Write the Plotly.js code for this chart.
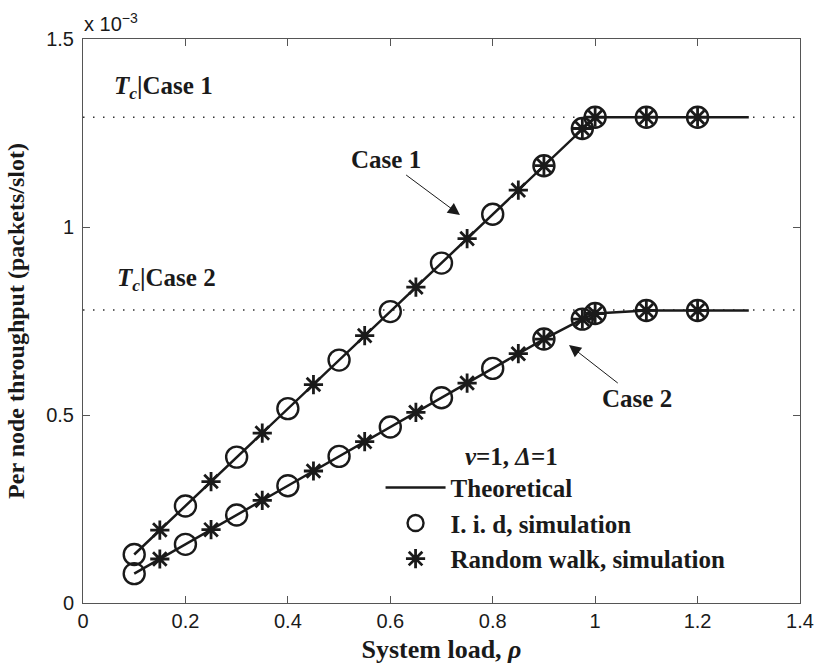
<!DOCTYPE html>
<html>
<head>
<meta charset="utf-8">
<script src="https://cdn.plot.ly/plotly-3.0.1.min.js"></script>
<style>html,body{margin:0;padding:0;background:#fff;}#chart{width:819px;height:671px;}</style>
</head>
<body>
<div id="chart"></div>
<script>
// System load rho
const theoX1 = [0.1, 1.0, 1.3];
const theoY1 = [0.129, 1.292, 1.292];
const theoX2 = [0.1, 0.9, 0.975, 1.0, 1.1, 1.3];
const theoY2 = [0.078, 0.702, 0.755, 0.770, 0.778, 0.778];

// I.i.d simulation (circles)
const iidX = [0.1, 0.2, 0.3, 0.4, 0.5, 0.6, 0.7, 0.8, 0.9, 0.975, 1.0, 1.1, 1.2];
const iidY1 = [0.129, 0.258, 0.388, 0.517, 0.646, 0.775, 0.904, 1.034, 1.163, 1.262, 1.292, 1.292, 1.292];
const iidY2 = [0.078, 0.156, 0.234, 0.312, 0.390, 0.468, 0.546, 0.624, 0.702, 0.755, 0.770, 0.778, 0.778];

// Random walk simulation (stars)
const rwX = [0.15, 0.25, 0.35, 0.45, 0.55, 0.65, 0.75, 0.85, 0.9, 0.975, 1.0, 1.1, 1.2];
const rwY1 = [0.194, 0.323, 0.452, 0.581, 0.711, 0.840, 0.969, 1.098, 1.163, 1.262, 1.292, 1.292, 1.292];
const rwY2 = [0.117, 0.195, 0.273, 0.351, 0.429, 0.507, 0.585, 0.663, 0.702, 0.755, 0.770, 0.778, 0.778];

// Capacity levels Tc
const tcX = [0, 1.4];
const tcCase1 = [1.292, 1.292];
const tcCase2 = [0.779, 0.779];

const xTicks = [0, 0.2, 0.4, 0.6, 0.8, 1, 1.2, 1.4];
const xTickText = ['0', '0.2', '0.4', '0.6', '0.8', '1', '1.2', '1.4'];
const yTicks = [0, 0.5, 1, 1.5];
const yTickText = ['0', '0.5', '1', '1.5'];

const serif = 'Liberation Serif, Times New Roman, serif';
const sans = 'Liberation Sans, Arial, sans-serif';
const ink = '#1a1a1a';

const dotted = {color: '#333', width: 1.5, dash: '1.5px,8.5px'};
const circleMarker = {symbol: 'circle-open', size: 21, color: ink, line: {width: 2.4, color: ink}};
const starMarker = {symbol: 'asterisk-open', size: 16, color: ink, line: {width: 2.8, color: ink}};

const traces = [
  {x: tcX, y: tcCase1, mode: 'lines', line: dotted, showlegend: false, hoverinfo: 'skip'},
  {x: tcX, y: tcCase2, mode: 'lines', line: dotted, showlegend: false, hoverinfo: 'skip'},
  {x: theoX1, y: theoY1, mode: 'lines', line: {color: ink, width: 2.5}, name: '<b>Theoretical</b>'},
  {x: theoX2, y: theoY2, mode: 'lines', line: {color: ink, width: 2.5}, showlegend: false},
  {x: iidX, y: iidY1, mode: 'markers', marker: circleMarker, name: '<b>I. i. d, simulation</b>'},
  {x: iidX, y: iidY2, mode: 'markers', marker: circleMarker, showlegend: false},
  {x: rwX, y: rwY1, mode: 'markers', marker: starMarker, name: '<b>Random walk, simulation</b>'},
  {x: rwX, y: rwY2, mode: 'markers', marker: starMarker, showlegend: false}
];

const axisCommon = {
  showline: true, linecolor: '#555', linewidth: 1, mirror: 'ticks',
  ticks: 'inside', ticklen: 7, tickcolor: '#555', tickwidth: 1,
  showgrid: false, zeroline: false,
  tickfont: {family: sans, size: 20, color: ink}
};

const layout = {
  width: 819, height: 671,
  margin: {l: 83, r: 19, t: 39, b: 68},
  paper_bgcolor: '#fff', plot_bgcolor: '#fff',
  showlegend: true,
  legend: {
    x: 0.415, y: 0.245, xanchor: 'left', yanchor: 'top',
    bgcolor: 'rgba(0,0,0,0)', borderwidth: 0,
    font: {family: serif, size: 25, color: ink},
    itemwidth: 60, tracegroupgap: 0
  },
  xaxis: Object.assign({}, axisCommon, {
    range: [0, 1.4], tickvals: xTicks, ticktext: xTickText,
    title: {text: '<b>System load, <i>ρ</i></b>', font: {family: serif, size: 26, color: ink}, standoff: 8}
  }),
  yaxis: Object.assign({}, axisCommon, {
    range: [0, 1.5], tickvals: yTicks, ticktext: yTickText, ticklabelstandoff: 4,
    title: {text: '<b>Per node throughput (packets/slot)</b>', font: {family: serif, size: 24, color: ink}, standoff: 14}
  }),
  annotations: [
    {xref: 'paper', yref: 'paper', x: -0.002, y: 1.03, xanchor: 'left', yanchor: 'middle', showarrow: false,
     text: 'x 10<sup>−3</sup>', font: {family: sans, size: 20, color: ink}},
    {xref: 'x', yref: 'y', x: 0.057, y: 1.37, xanchor: 'left', yanchor: 'middle', showarrow: false,
     text: '<b><i>T<sub>c</sub></i>|Case 1</b>', font: {family: serif, size: 25, color: ink}},
    {xref: 'x', yref: 'y', x: 0.062, y: 0.86, xanchor: 'left', yanchor: 'middle', showarrow: false,
     text: '<b><i>T<sub>c</sub></i>|Case 2</b>', font: {family: serif, size: 25, color: ink}},
    {xref: 'x', yref: 'y', x: 0.736, y: 1.032, ax: -74, ay: -55, showarrow: true,
     arrowhead: 2, arrowsize: 2.4, arrowwidth: 1, arrowcolor: ink,
     text: '<b>Case 1</b>', font: {family: serif, size: 25, color: ink}},
    {xref: 'x', yref: 'y', x: 0.949, y: 0.686, ax: 68, ay: 53, showarrow: true,
     arrowhead: 2, arrowsize: 2.4, arrowwidth: 1, arrowcolor: ink,
     text: '<b>Case 2</b>', font: {family: serif, size: 25, color: ink}},
    {xref: 'x', yref: 'y', x: 0.836, y: 0.39, xanchor: 'center', yanchor: 'middle', showarrow: false,
     text: '<b><i>ν</i>=1, <i>Δ</i>=1</b>', font: {family: serif, size: 25, color: ink}}
  ]
};

Plotly.newPlot('chart', traces, layout, {displayModeBar: false, staticPlot: true});
</script>
</body>
</html>
